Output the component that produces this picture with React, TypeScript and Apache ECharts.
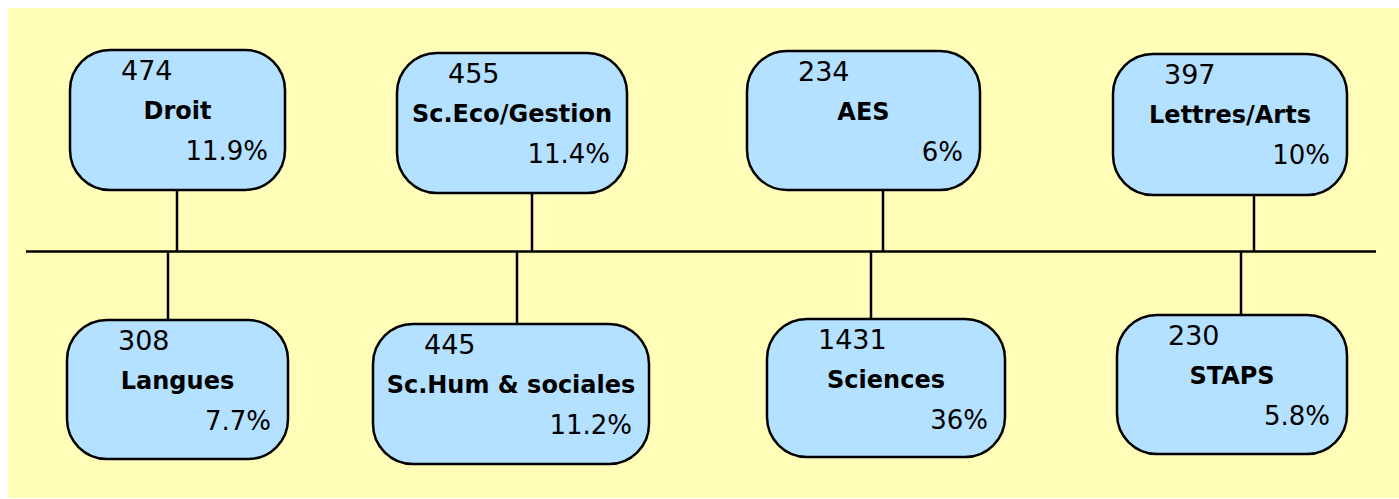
import React, { useEffect, useRef } from "react";
import * as echarts from "echarts";

// ---- data ----
const CATEGORIES = ["Droit", "Sc.Eco/Gestion", "AES", "Lettres/Arts", "Langues", "Sc.Hum & sociales", "Sciences", "STAPS"];
const COUNTS = [474, 455, 234, 397, 308, 445, 1431, 230];
const SHARES = [11.9, 11.4, 6, 10, 7.7, 11.2, 36, 5.8];
const SLOT = [0, 1, 2, 3, 0, 1, 2, 3];
const ROW = [1, 1, 1, 1, -1, -1, -1, -1];

// ---- layout (px) ----
const BOX_DX = [0.5, -16, -15.5, 0, 0.5, -17, 7, 2];
const BOX_DY = [-2, 1, -1.5, 2.5, 0.5, 5, -1, -4.5];
const BOX_W = [215, 230, 233, 234, 221, 276, 238, 230];
const BOX_H = [140, 140, 139, 141, 139, 140, 138, 139];
const CONN_DX = [0, 4, 4, 24, -9, -11, -8, 11];
const LINE_DY = -4;
const LINE_EXT_L = 151;
const LINE_EXT_R = 146;

const FONT = '"DejaVu Sans", sans-serif';
const BG = "#FFFDB8";
const BOX_FILL = "#B4E1FF";

function txt(text: string, x: number, y: number, align: string, font: string) {
  return {
    type: "text",
    style: {
      text,
      x,
      y,
      fill: "#000",
      font,
      align,
      textAlign: align,
      verticalAlign: "middle",
      textVerticalAlign: "middle",
    },
  };
}

export default function App() {
  const ref = useRef<HTMLDivElement>(null);
  useEffect(() => {
    if (!ref.current) return;
    const chart = echarts.init(ref.current, undefined, { renderer: "svg" });
    const boxData = CATEGORIES.map((c, i) => [SLOT[i], ROW[i], COUNTS[i], SHARES[i]]);
    chart.setOption({
      animation: false,
      backgroundColor: BG,
      grid: { left: 169, right: 169, top: 114, bottom: 109 },
      xAxis: { type: "value", min: 0, max: 3, show: false },
      yAxis: { type: "value", min: -1, max: 1, show: false },
      series: [
        {
          type: "custom",
          clip: false,
          data: [[0, 0]],
          renderItem: (params: any, api: any) => {
            const p0 = api.coord([0, 0]);
            const p3 = api.coord([3, 0]);
            const y = p0[1] + LINE_DY;
            return {
              type: "line",
              shape: { x1: p0[0] - LINE_EXT_L, y1: y, x2: p3[0] + LINE_EXT_R, y2: y },
              style: { stroke: "#000", lineWidth: 2.5 },
            };
          },
        },
        {
          type: "custom",
          clip: false,
          data: boxData,
          renderItem: (params: any, api: any) => {
            const i = params.dataIndex;
            const p = api.coord([api.value(0), api.value(1)]);
            const lineY = api.coord([0, 0])[1] + LINE_DY;
            const w = BOX_W[i];
            const h = BOX_H[i];
            const cx = p[0] + BOX_DX[i];
            const cy = p[1] + BOX_DY[i];
            const left = cx - w / 2;
            const top = cy - h / 2;
            const connX = p[0] + CONN_DX[i];
            const connY = api.value(1) > 0 ? top + h : top;
            const count = api.value(2);
            const share = api.value(3);
            return {
              type: "group",
              children: [
                {
                  type: "line",
                  shape: { x1: connX, y1: connY, x2: connX, y2: lineY },
                  style: { stroke: "#000", lineWidth: 2.5 },
                },
                {
                  type: "rect",
                  shape: { x: left, y: top, width: w, height: h, r: 40 },
                  style: { fill: BOX_FILL, stroke: "#000", lineWidth: 2.5 },
                },
                txt(String(count), left + 51, top + 20, "left", `27px ${FONT}`),
                txt(CATEGORIES[i], cx, top + 61, "center", `bold 24px ${FONT}`),
                txt(`${share}%`, left + w - 17, top + 101, "right", `26px ${FONT}`),
              ],
            };
          },
        },
      ],
    });
    return () => chart.dispose();
  }, []);
  return (
    <div
      ref={ref}
      style={{ position: "absolute", left: 8, top: 8, width: 1391, height: 490 }}
    />
  );
}
